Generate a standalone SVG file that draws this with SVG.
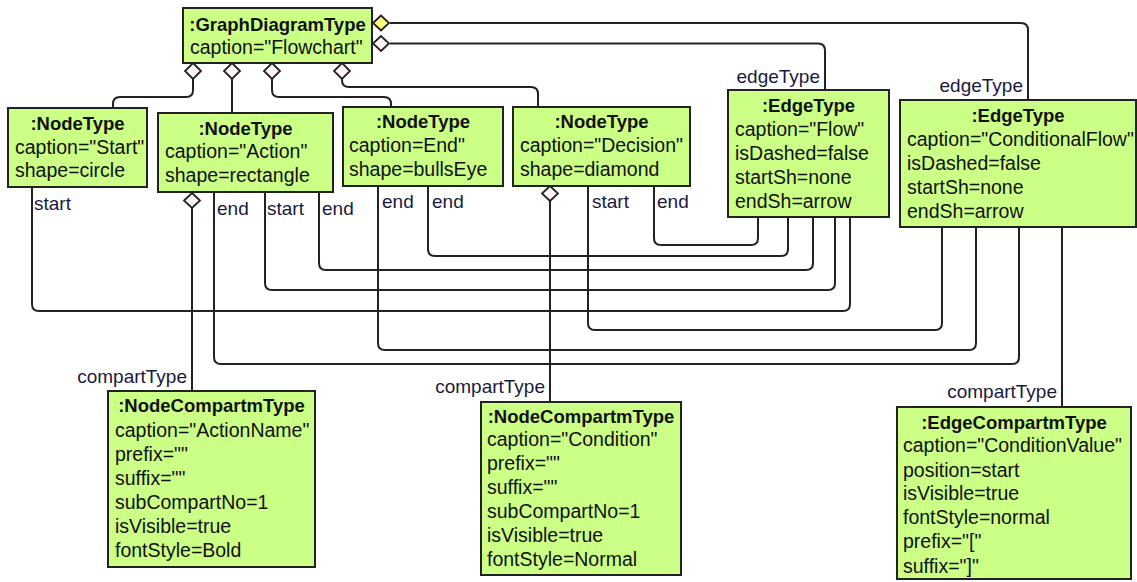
<svg xmlns="http://www.w3.org/2000/svg" width="1137" height="582" viewBox="0 0 1137 582">
<style>
.box{fill:#ccff85;stroke:#222;stroke-width:2}
.t{font-family:"Liberation Sans",Arial,sans-serif;font-size:19.5px;fill:#111}
.b{font-weight:bold;text-anchor:middle;font-size:18.5px}
.lbl{font-family:"Liberation Sans",Arial,sans-serif;font-size:19px;fill:#1a1a40}
.end{text-anchor:end}
.ln{fill:none;stroke:#222;stroke-width:2}
.dw{fill:#fff3f3;stroke:#222;stroke-width:1.8}
.dy{fill:#ffff80;stroke:#222;stroke-width:1.8}
</style>
<rect width="1137" height="582" fill="#fff"/>
<g id="connectors">
<path class="ln" d="M193,79 V90 Q193,97 186,97 H120 Q113,97 113,104 V108"/>
<path class="ln" d="M232,79 V113"/>
<path class="ln" d="M272,79 V90 Q272,97 279,97 H384 Q391,97 391,104 V107"/>
<path class="ln" d="M342,79 V80 Q342,87 349,87 H531 Q538,87 538,94 V107"/>
<path class="ln" d="M390,23 H1021 Q1028,23 1028,30 V100"/>
<path class="ln" d="M390,43.5 H818 Q825,43.5 825,50.5 V90"/>
<path class="ln" d="M32,187 V304 Q32,311 39,311 H843 Q850,311 850,304 V217"/>
<path class="ln" d="M214,192 V357 Q214,364 221,364 H1012 Q1019,364 1019,357 V227"/>
<path class="ln" d="M265,192 V283 Q265,290 272,290 H828 Q835,290 835,283 V217"/>
<path class="ln" d="M319,192 V263 Q319,270 326,270 H806 Q813,270 813,263 V217"/>
<path class="ln" d="M378,186 V343 Q378,350 385,350 H969 Q976,350 976,343 V227"/>
<path class="ln" d="M428,186 V249 Q428,256 435,256 H781 Q788,256 788,249 V217"/>
<path class="ln" d="M588,186 V323 Q588,330 595,330 H935 Q942,330 942,323 V227"/>
<path class="ln" d="M654,186 V238 Q654,245 661,245 H751 Q758,245 758,238 V217"/>
<path class="ln" d="M192,208 V391"/>
<path class="ln" d="M550,201 V402"/>
<path class="ln" d="M1062,227 V407"/>
<path class="dw" d="M193,63 L201,71 L193,79 L185,71 Z"/>
<path class="dw" d="M232,63 L240,71 L232,79 L224,71 Z"/>
<path class="dw" d="M272,63 L280,71 L272,79 L264,71 Z"/>
<path class="dw" d="M342,63 L350,71 L342,79 L334,71 Z"/>
<path class="dy" d="M373,23 L381,15.5 L389,23 L381,30.5 Z"/>
<path class="dw" d="M373,43.5 L381,36 L389,43.5 L381,51 Z"/>
<path class="dw" d="M192,193 L200,200.5 L192,208 L184,200.5 Z"/>
<path class="dw" d="M550,186 L558,193.5 L550,201 L542,193.5 Z"/>
<text class="lbl" x="34" y="210">start</text>
<text class="lbl" x="217" y="215">end</text>
<text class="lbl" x="267" y="215">start</text>
<text class="lbl" x="322" y="215">end</text>
<text class="lbl" x="382" y="208">end</text>
<text class="lbl" x="432" y="208">end</text>
<text class="lbl" x="592" y="208">start</text>
<text class="lbl" x="657" y="208">end</text>
<text class="lbl end" x="820" y="83">edgeType</text>
<text class="lbl end" x="1023" y="92">edgeType</text>
<text class="lbl end" x="187" y="383">compartType</text>
<text class="lbl end" x="545" y="393">compartType</text>
<text class="lbl end" x="1057" y="398">compartType</text>
</g>
<g id="graphDiagram">
<rect class="box" x="183" y="8" width="189" height="55"/>
<text class="t b" x="277.5" y="31">:GraphDiagramType</text>
<text class="t" x="190" y="54">caption="Flowchart"</text>
</g>
<g id="nodeStart">
<rect class="box" x="8" y="108" width="139" height="79"/>
<text class="t b" x="77.5" y="130">:NodeType</text>
<text class="t" x="15" y="154">caption="Start"</text>
<text class="t" x="15" y="177">shape=circle</text>
</g>
<g id="nodeAction">
<rect class="box" x="158" y="113" width="175" height="79"/>
<text class="t b" x="245.5" y="135">:NodeType</text>
<text class="t" x="165" y="158">caption="Action"</text>
<text class="t" x="165" y="182">shape=rectangle</text>
</g>
<g id="nodeEnd">
<rect class="box" x="343" y="107" width="160" height="79"/>
<text class="t b" x="423" y="128">:NodeType</text>
<text class="t" x="349" y="152">caption=End"</text>
<text class="t" x="349" y="176">shape=bullsEye</text>
</g>
<g id="nodeDecision">
<rect class="box" x="513" y="107" width="177" height="79"/>
<text class="t b" x="601.5" y="128">:NodeType</text>
<text class="t" x="520" y="152">caption="Decision"</text>
<text class="t" x="520" y="176">shape=diamond</text>
</g>
<g id="edgeFlow">
<rect class="box" x="728" y="90" width="161" height="127"/>
<text class="t b" x="808.5" y="112">:EdgeType</text>
<text class="t" x="735" y="136">caption="Flow"</text>
<text class="t" x="735" y="160">isDashed=false</text>
<text class="t" x="735" y="184">startSh=none</text>
<text class="t" x="735" y="208">endSh=arrow</text>
</g>
<g id="edgeConditionalFlow">
<rect class="box" x="900" y="100" width="236" height="127"/>
<text class="t b" x="1018" y="122">:EdgeType</text>
<text class="t" x="907" y="146">caption="ConditionalFlow"</text>
<text class="t" x="907" y="170">isDashed=false</text>
<text class="t" x="907" y="194">startSh=none</text>
<text class="t" x="907" y="218">endSh=arrow</text>
</g>
<g id="compartAction">
<rect class="box" x="108" y="391" width="207" height="176"/>
<text class="t b" x="211.5" y="412">:NodeCompartmType</text>
<text class="t" x="115" y="437">caption="ActionName"</text>
<text class="t" x="115" y="461">prefix=""</text>
<text class="t" x="115" y="485">suffix=""</text>
<text class="t" x="115" y="509">subCompartNo=1</text>
<text class="t" x="115" y="533">isVisible=true</text>
<text class="t" x="115" y="557">fontStyle=Bold</text>
</g>
<g id="compartDecision">
<rect class="box" x="481" y="402" width="200" height="173"/>
<text class="t b" x="581" y="423">:NodeCompartmType</text>
<text class="t" x="487" y="446">caption="Condition"</text>
<text class="t" x="487" y="470">prefix=""</text>
<text class="t" x="487" y="494">suffix=""</text>
<text class="t" x="487" y="518">subCompartNo=1</text>
<text class="t" x="487" y="542">isVisible=true</text>
<text class="t" x="487" y="566">fontStyle=Normal</text>
</g>
<g id="compartEdge">
<rect class="box" x="897" y="407" width="234" height="172"/>
<text class="t b" x="1014" y="429">:EdgeCompartmType</text>
<text class="t" x="903" y="452">caption="ConditionValue"</text>
<text class="t" x="903" y="477">position=start</text>
<text class="t" x="903" y="500">isVisible=true</text>
<text class="t" x="903" y="524">fontStyle=normal</text>
<text class="t" x="903" y="548">prefix="["</text>
<text class="t" x="903" y="573">suffix="]"</text>
</g>
</svg>
